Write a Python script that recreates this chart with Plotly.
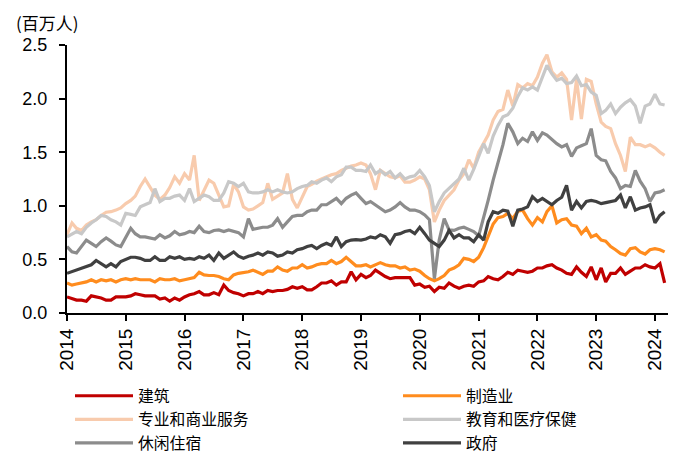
import pandas as pd
import plotly.graph_objects as go

dates = pd.date_range("2014-01-01", periods=123, freq="MS")

construction = [
    0.15, 0.13, 0.12, 0.12, 0.11, 0.16, 0.15, 0.14, 0.12, 0.12, 0.15, 0.15,
    0.15, 0.16, 0.18, 0.17, 0.16, 0.16, 0.16, 0.13, 0.14, 0.11, 0.14, 0.12,
    0.15, 0.17, 0.18, 0.20, 0.17, 0.17, 0.19, 0.17, 0.26, 0.21, 0.19, 0.18,
    0.16, 0.18, 0.18, 0.20, 0.18, 0.21, 0.20, 0.21, 0.21, 0.22, 0.245, 0.23,
    0.245, 0.215, 0.215, 0.245, 0.28, 0.28, 0.30, 0.26, 0.29, 0.29, 0.385, 0.31,
    0.36, 0.33, 0.35, 0.40, 0.37, 0.34, 0.32, 0.33, 0.33, 0.33, 0.33, 0.26,
    0.27, 0.24, 0.25, 0.20, 0.24, 0.23, 0.28, 0.25, 0.23, 0.25, 0.26, 0.25,
    0.29, 0.30, 0.34, 0.32, 0.31, 0.34, 0.38, 0.36, 0.40, 0.39, 0.38, 0.39,
    0.42, 0.42, 0.44, 0.45, 0.42, 0.40, 0.37, 0.36, 0.43, 0.38, 0.34, 0.43,
    0.31, 0.42, 0.29, 0.37, 0.37, 0.42, 0.36, 0.39, 0.42, 0.42, 0.45, 0.43,
    0.42, 0.46, 0.28,
]

manufacturing = [
    0.28, 0.26, 0.27, 0.28, 0.29, 0.31, 0.29, 0.31, 0.30, 0.31, 0.29, 0.31,
    0.32, 0.31, 0.32, 0.31, 0.31, 0.31, 0.29, 0.32, 0.31, 0.31, 0.32, 0.30,
    0.31, 0.32, 0.33, 0.38, 0.355, 0.35, 0.35, 0.34, 0.32, 0.31, 0.355, 0.37,
    0.375, 0.385, 0.40, 0.38, 0.36, 0.39, 0.39, 0.43, 0.40, 0.39, 0.42, 0.42,
    0.45, 0.42, 0.43, 0.45, 0.46, 0.46, 0.49, 0.46, 0.48, 0.52, 0.48, 0.44,
    0.44, 0.45, 0.43, 0.45, 0.47, 0.45, 0.44, 0.44, 0.42, 0.43, 0.40, 0.41,
    0.39, 0.35, 0.32, 0.30, 0.32, 0.35, 0.40, 0.42, 0.45, 0.51, 0.50, 0.48,
    0.52, 0.61, 0.72, 0.83, 0.89, 0.90, 0.93, 0.88, 0.95, 0.96, 0.88, 0.82,
    0.89, 0.85, 0.945, 1.00, 0.84, 0.87, 0.88, 0.82, 0.81, 0.74, 0.79, 0.71,
    0.73, 0.68, 0.67, 0.62, 0.59, 0.555, 0.54, 0.60, 0.61, 0.57, 0.55, 0.59,
    0.60, 0.59, 0.57,
]

professional = [
    0.73, 0.84, 0.79, 0.77, 0.82, 0.85, 0.87, 0.91, 0.94, 0.945, 0.96, 0.98,
    1.02, 1.05, 1.09, 1.18, 1.25, 1.18, 1.10, 1.06, 1.10, 1.17, 1.27, 1.21,
    1.30, 1.24, 1.47, 1.05, 1.14, 1.24, 1.21, 1.10, 0.99, 1.00, 1.20, 1.13,
    0.99, 0.96, 0.97, 1.00, 1.03, 1.21, 1.06, 1.09, 1.12, 1.30, 1.06, 0.98,
    1.08, 1.18, 1.20, 1.23, 1.25, 1.27, 1.29, 1.30, 1.33, 1.35, 1.37, 1.38,
    1.40, 1.38, 1.30, 1.15, 1.33, 1.30, 1.27, 1.26, 1.28, 1.22, 1.22, 1.24,
    1.27, 1.25, 1.15, 0.85, 0.96, 1.05, 1.10, 1.15, 1.24, 1.30, 1.43, 1.35,
    1.50, 1.58, 1.66, 1.80, 1.88, 1.90, 2.08, 1.93, 2.13, 2.10, 2.14, 2.12,
    2.20, 2.33, 2.41, 2.25, 2.20, 2.24, 2.18, 1.80, 2.18, 1.81, 2.18, 2.16,
    1.95, 1.78, 1.74, 1.72, 1.58, 1.47, 1.32, 1.64, 1.57, 1.57, 1.55, 1.57,
    1.54, 1.50, 1.47,
]

education = [
    0.71, 0.74, 0.76, 0.74, 0.80, 0.84, 0.87, 0.91, 0.90, 0.87, 0.85, 0.82,
    0.93, 0.92, 0.91, 0.99, 1.01, 1.03, 1.16, 1.04, 1.07, 1.07, 1.09, 1.10,
    1.05, 1.16, 1.04, 1.07, 1.10, 1.085, 1.05, 1.05, 1.12, 1.225, 1.21, 1.18,
    1.21, 1.13, 1.12, 1.12, 1.13, 1.15, 1.13, 1.15, 1.13, 1.12, 1.13, 1.16,
    1.18, 1.19, 1.225, 1.21, 1.24, 1.26, 1.225, 1.27, 1.29, 1.36, 1.36, 1.33,
    1.33, 1.32, 1.38, 1.30, 1.33, 1.29, 1.32, 1.26, 1.30, 1.25, 1.27, 1.28,
    1.33, 1.27, 1.19, 0.945, 1.04, 1.12, 1.16, 1.20, 1.25, 1.35, 1.24, 1.34,
    1.47, 1.58, 1.49, 1.65, 1.75, 1.83, 1.85, 1.91, 2.02, 2.10, 2.08, 2.11,
    2.08, 2.20, 2.31, 2.23, 2.17, 2.19, 2.14, 2.15, 2.21, 2.12, 2.13, 2.06,
    2.03, 1.86, 1.89, 1.95, 1.86, 1.92, 1.96, 1.99, 1.93, 1.77, 1.93, 1.95,
    2.04, 1.95, 1.94,
]

leisure = [
    0.62, 0.57, 0.56, 0.62, 0.68, 0.65, 0.62, 0.665, 0.70, 0.67, 0.635, 0.62,
    0.70, 0.79, 0.74, 0.71, 0.71, 0.70, 0.69, 0.73, 0.70, 0.72, 0.76, 0.73,
    0.74, 0.76, 0.75, 0.81, 0.76, 0.75, 0.77, 0.775, 0.76, 0.775, 0.76, 0.75,
    0.71, 0.88, 0.78, 0.79, 0.80, 0.80, 0.82, 0.88, 0.80, 0.85, 0.90, 0.91,
    0.91, 0.945, 0.96, 0.96, 1.01, 1.01, 1.04, 1.07, 1.02, 1.07, 1.10, 1.12,
    1.07, 1.02, 1.04, 1.01, 0.98, 0.945, 0.96, 0.99, 1.03, 0.99, 0.96, 0.96,
    0.945, 0.915, 0.87, 0.32, 0.68, 0.88, 0.775, 0.77, 0.79, 0.80, 0.78, 0.76,
    0.72, 0.88, 1.05, 1.24, 1.40, 1.57, 1.77, 1.69, 1.58, 1.63, 1.60, 1.69,
    1.61, 1.68, 1.66, 1.62, 1.58, 1.55, 1.57, 1.46, 1.54, 1.56, 1.58, 1.72,
    1.47, 1.43, 1.42, 1.32, 1.26, 1.16, 1.19, 1.18, 1.33, 1.23, 1.16, 1.04,
    1.12, 1.13, 1.15,
]

government = [
    0.37, 0.385, 0.40, 0.415, 0.43, 0.45, 0.49, 0.46, 0.43, 0.46, 0.43, 0.48,
    0.50, 0.52, 0.52, 0.51, 0.49, 0.49, 0.525, 0.49, 0.49, 0.525, 0.51, 0.525,
    0.50, 0.51, 0.50, 0.525, 0.51, 0.54, 0.49, 0.56, 0.51, 0.54, 0.57, 0.53,
    0.51, 0.53, 0.54, 0.56, 0.54, 0.57, 0.56, 0.53, 0.54, 0.57, 0.56, 0.59,
    0.60, 0.62, 0.63, 0.60, 0.63, 0.65, 0.63, 0.71, 0.62, 0.665, 0.68, 0.685,
    0.68, 0.69, 0.71, 0.70, 0.73, 0.71, 0.65, 0.73, 0.74, 0.76, 0.77, 0.74,
    0.80, 0.74, 0.68, 0.65, 0.62, 0.68, 0.77, 0.70, 0.73, 0.70, 0.70, 0.665,
    0.73, 0.68, 0.85, 0.945, 0.93, 0.96, 0.95, 0.81, 0.96, 0.97, 0.99, 1.085,
    1.04, 1.07, 1.04, 1.01, 1.05, 1.08, 1.19, 0.96, 1.04, 0.98, 1.04, 1.05,
    1.04, 1.02, 1.03, 1.04, 1.05, 1.10, 0.98, 1.085, 0.96, 0.98, 0.99, 1.01,
    0.84, 0.91, 0.945,
]

series_names = ["建筑", "制造业", "专业和商业服务", "教育和医疗保健", "休闲住宿", "政府"]
series_values = [construction, manufacturing, professional, education, leisure, government]
series_colors = ["#C00000", "#FF8C1E", "#F8CBAD", "#C8C8C8", "#8C8C8C", "#404040"]
series_legend = ["legend", "legend2", "legend", "legend2", "legend", "legend2"]

year_ticks = pd.date_range("2014-01-01", "2024-01-01", freq="YS")
year_labels = [str(d.year) for d in year_ticks]
y_ticks = [0.0, 0.5, 1.0, 1.5, 2.0, 2.5]

fig = go.Figure()
for name, vals, col, lg in zip(series_names, series_values, series_colors, series_legend):
    fig.add_trace(go.Scatter(
        x=dates, y=vals, name=name, mode="lines",
        line=dict(color=col, width=3.2),
        legend=lg,
    ))

W, H = 683, 454
ml, mr, mt, mb = 67, 15, 45, 141
pw, ph = W - ml - mr, H - mt - mb

legend_font = dict(family="Noto Sans CJK SC", size=15.8, color="#000000")
legend_top = 1 - 379 / H


def legend_box(xpx):
    return dict(
        orientation="v",
        xref="container", yref="container",
        x=xpx / W, xanchor="left",
        y=legend_top, yanchor="top",
        itemwidth=58,
        font=legend_font,
        bgcolor="rgba(0,0,0,0)",
        tracegroupgap=0,
    )


fig.update_layout(
    width=W, height=H,
    margin=dict(l=ml, r=mr, t=mt, b=mb, autoexpand=False),
    plot_bgcolor="white", paper_bgcolor="white",
    showlegend=True,
    legend=legend_box(70),
    legend2=legend_box(398),
    font=dict(family="Liberation Sans, Arial", color="#000000"),
    xaxis=dict(
        range=["2014-01-01", "2024-03-22"],
        tickmode="array", tickvals=year_ticks, ticktext=year_labels,
        tickangle=-90,
        ticks="outside", ticklen=6, tickwidth=2, tickcolor="#000000",
        showline=True, linecolor="#000000", linewidth=2,
        showgrid=False, zeroline=False,
        tickfont=dict(family="Liberation Sans, Arial", size=19, color="#000000"),
    ),
    yaxis=dict(
        range=[0, 2.5],
        tickmode="array", tickvals=y_ticks, ticktext=[f"{v:.1f}" for v in y_ticks],
        ticks="outside", ticklen=6, tickwidth=2, tickcolor="#000000",
        showline=True, linecolor="#000000", linewidth=2,
        showgrid=False, zeroline=False,
        ticklabelstandoff=8,
        tickfont=dict(family="Liberation Sans, Arial", size=18, color="#000000"),
    ),
    annotations=[dict(
        text="(百万人)", showarrow=False,
        xref="paper", yref="paper",
        x=(14 - ml) / pw, xanchor="left",
        y=1 + (mt - 22) / ph, yanchor="middle",
        font=dict(family="Noto Sans CJK SC", size=17, color="#000000"),
    )],
)

fig.write_html(
    "out.html",
    config={"displayModeBar": False},
    post_script="document.body.style.margin='0px';",
)
